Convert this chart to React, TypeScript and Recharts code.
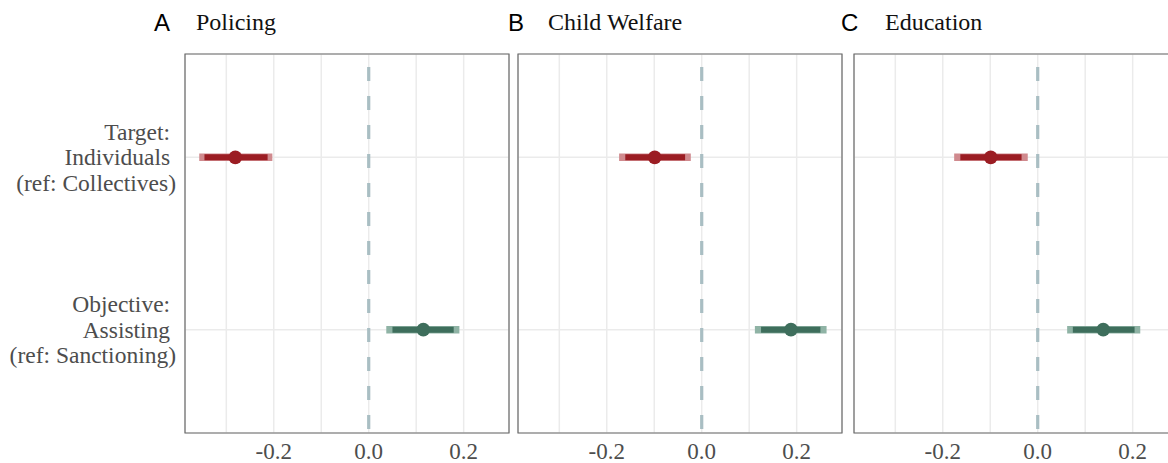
import { CartesianGrid, ErrorBar, ReferenceArea, ReferenceLine, Scatter, ScatterChart, XAxis, YAxis } from 'recharts'

const panelNames = ['Policing', 'Child Welfare', 'Education']
const panelLetters = ['A', 'B', 'C']

const rowLabels: Record<number, string[]> = {
  2: ['Target: ', 'Individuals ', '(ref: Collectives)'],
  1: ['Objective: ', 'Assisting ', '(ref: Sanctioning)'],
}

// estimates with 90% (inner) and 95% (outer) intervals, one value per panel
const targetEst = [-0.281, -0.099, -0.099]
const targetLo90 = [-0.346, -0.161, -0.163]
const targetHi90 = [-0.213, -0.035, -0.034]
const targetLo95 = [-0.357, -0.174, -0.176]
const targetHi95 = [-0.203, -0.023, -0.021]

const objectiveEst = [0.115, 0.188, 0.138]
const objectiveLo90 = [0.05, 0.125, 0.074]
const objectiveHi90 = [0.179, 0.25, 0.204]
const objectiveLo95 = [0.037, 0.112, 0.062]
const objectiveHi95 = [0.191, 0.263, 0.216]

const xTicks = [-0.3, -0.2, -0.1, 0, 0.1, 0.2]
const xDomain: [number, number] = [-0.387, 0.2955]
const yDomain: [number, number] = [0.4, 2.6]

const RED = '#9b1d23'
const RED_LIGHT = '#d08a8e'
const GREEN = '#3e6e5c'
const GREEN_LIGHT = '#8fb3a5'
const SERIF = '"Liberation Serif", "Times New Roman", serif'
const SANS = '"Liberation Sans", Arial, sans-serif'

function row(y: number, est: number, lo90: number, hi90: number, lo95: number, hi95: number) {
  return [{ x: est, y, ci90: [est - lo90, hi90 - est], ci95: [est - lo95, hi95 - est] }]
}

const Dot = (color: string) => (props: any) => <circle cx={props.cx} cy={props.cy} r={6.8} fill={color} />

function YTick({ x, y, payload }: any) {
  const lines = rowLabels[payload.value] || []
  return (
    <text x={x} y={y} textAnchor="end" fill="#4d4d4d" fontSize={23.5} fontFamily={SERIF} style={{ whiteSpace: 'pre' }}>
      {lines.map((l, i) => (
        <tspan key={i} x={x - 1} dy={i === 0 ? -25.5 + 8 : 25.5}>
          {l}
        </tspan>
      ))}
    </text>
  )
}

const NoTick = () => <g />

function Panel({ i, left, width, showY }: { i: number; left: number; width: number; showY: boolean }) {
  const tData = row(2, targetEst[i], targetLo90[i], targetHi90[i], targetLo95[i], targetHi95[i])
  const oData = row(1, objectiveEst[i], objectiveLo90[i], objectiveHi90[i], objectiveLo95[i], objectiveHi95[i])
  return (
    <div style={{ position: 'absolute', left, top: 0 }}>
      <ScatterChart width={width} height={463} margin={{ top: 54, right: 11, bottom: 0, left: showY ? 0 : 10 }}>
        <CartesianGrid stroke="#ebebeb" strokeWidth={1.5} />
        <XAxis
          type="number"
          dataKey="x"
          domain={xDomain}
          allowDataOverflow
          ticks={xTicks}
          interval={0}
          height={30}
          axisLine={false}
          tickLine={false}
          tickMargin={4}
          tick={{ fill: '#4d4d4d', fontSize: 23, fontFamily: SERIF }}
          tickFormatter={(v: number) => (Math.round(v * 10) % 2 === 0 ? v.toFixed(1) : '')}
        />
        <YAxis
          type="number"
          dataKey="y"
          domain={yDomain}
          ticks={[1, 2]}
          interval={0}
          width={showY ? 185 : 0}
          axisLine={false}
          tickLine={false}
          tick={showY ? <YTick /> : <NoTick />}
        />
        <ReferenceLine x={0} stroke="#a9bec3" strokeWidth={3.2} strokeDasharray="14 15" strokeDashoffset={25} />
        <Scatter data={tData} isAnimationActive={false} shape={Dot(RED)}>
          <ErrorBar dataKey="ci95" direction="x" width={0} stroke={RED_LIGHT} strokeWidth={7.5} isAnimationActive={false} />
          <ErrorBar dataKey="ci90" direction="x" width={0} stroke={RED} strokeWidth={6} isAnimationActive={false} />
        </Scatter>
        <Scatter data={oData} isAnimationActive={false} shape={Dot(GREEN)}>
          <ErrorBar dataKey="ci95" direction="x" width={0} stroke={GREEN_LIGHT} strokeWidth={7.5} isAnimationActive={false} />
          <ErrorBar dataKey="ci90" direction="x" width={0} stroke={GREEN} strokeWidth={6} isAnimationActive={false} />
        </Scatter>
        <ReferenceArea
          x1={xDomain[0]}
          x2={xDomain[1]}
          y1={yDomain[0]}
          y2={yDomain[1]}
          fill="none"
          fillOpacity={0}
          stroke="#6a6a6a"
          strokeWidth={1.2}
          ifOverflow="visible"
        />
      </ScatterChart>
    </div>
  )
}

const titleX = [
  [154, 196],
  [508, 548],
  [841, 885],
]

export default function App() {
  return (
    <div style={{ position: 'fixed', left: 0, top: 0, width: 1168, height: 463, overflow: 'hidden', background: '#fff' }}>
      <Panel i={0} left={0} width={520} showY />
      <Panel i={1} left={508} width={345} showY={false} />
      <Panel i={2} left={844} width={345} showY={false} />
      <svg width={1168} height={50} style={{ position: 'absolute', left: 0, top: 0 }}>
        {panelNames.map((name, i) => (
          <g key={name}>
            <text x={titleX[i][0]} y={30.5} fontSize={24} fontFamily={SANS} fill="#000">
              {panelLetters[i]}
            </text>
            <text x={titleX[i][1]} y={29.5} fontSize={24} fontFamily={SERIF} fill="#111">
              {name}
            </text>
          </g>
        ))}
      </svg>
    </div>
  )
}
